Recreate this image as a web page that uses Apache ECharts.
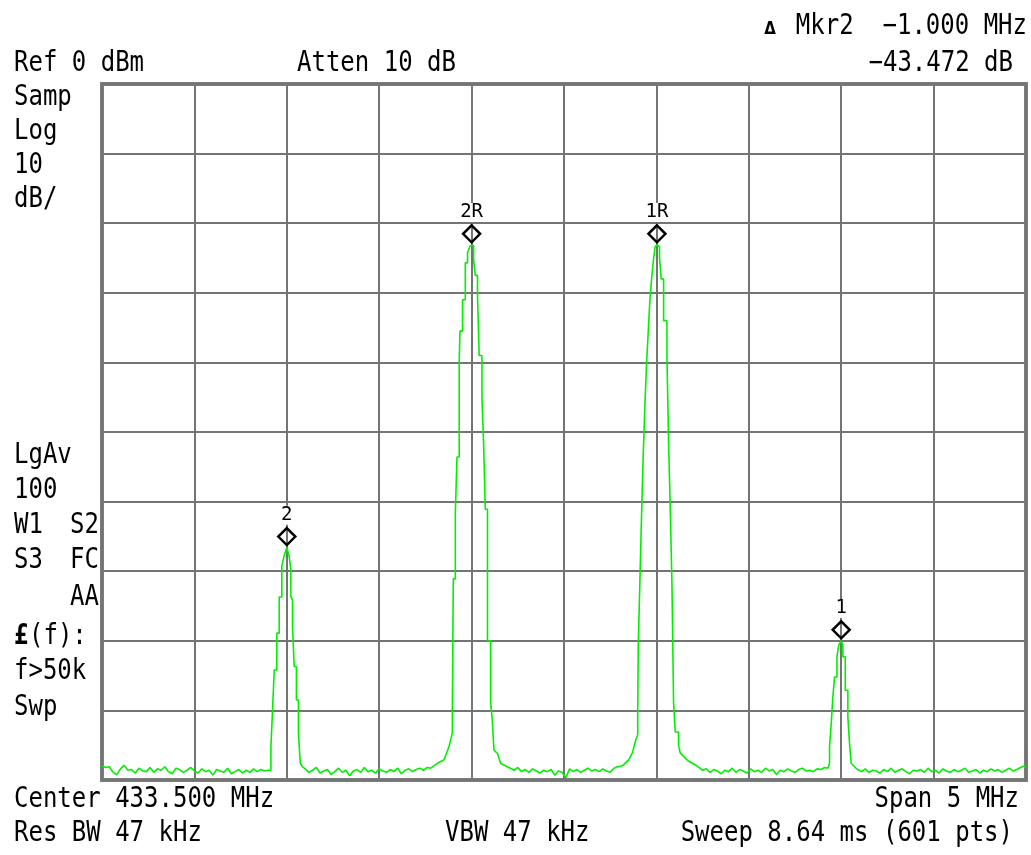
<!DOCTYPE html>
<html>
<head>
<meta charset="utf-8">
<script src="https://cdn.jsdelivr.net/npm/echarts@6/dist/echarts.min.js"></script>
<style>
html,body{margin:0;padding:0;background:#fff;}
#chart{width:1031px;height:855px;}
</style>
</head>
<body>
<div id="chart"></div>
<script>
// ---- axis setup (spectrum analyser: 431-436 MHz, 0 to -100 dBm) ----
const freqMin = 431.0, freqMax = 436.0, freqDiv = 0.5;
const refLevel = 0, bottomLevel = -100, dbDiv = 10;

const noiseStep = 0.02;
const noiseStart = [431.00, 432.10, 433.21, 434.23, 435.09];
const noise1 = [-98.0,-98.2,-98.1,-98.9,-99.2,-98.4,-97.9,-98.6,-98.5,-99.0,
  -98.3,-98.7,-98.8,-98.2,-98.9,-98.4,-98.6,-98.1,-98.8,-99.1,
  -98.3,-98.5,-98.9,-98.6,-98.2,-98.7,-99.0,-98.4,-98.8,-98.6,
  -99.3,-98.5,-98.7,-98.9,-98.3,-99.1,-98.8,-98.5,-99.0,-98.6,
  -98.9,-98.4,-98.8,-98.5,-98.7,-98.6];
const noise2 = [-98.4,-98.9,-98.6,-98.2,-99.0,-98.7,-98.5,-99.2,-98.8,-98.3,
  -98.9,-98.6,-99.4,-98.7,-98.5,-98.9,-98.2,-98.8,-98.6,-99.0,
  -98.4,-98.7,-98.9,-98.5,-98.8,-98.3,-99.1,-98.6,-98.4,-98.8,
  -98.5,-98.3,-98.6,-98.2];
const noise3 = [-98.3,-98.6,-98.2,-98.8,-98.5,-98.9,-98.4,-98.7,-99.0,-98.6,
  -98.8,-98.5,-99.3,-98.7,-98.9,-99.7,-98.4,-98.8,-98.5,-98.9,
  -98.6,-98.3,-98.7,-98.5,-98.8,-98.4,-98.7,-98.9,-98.3,-98.1,
  -98.0];
const noise4 = [-98.2,-98.6,-98.4,-98.9,-98.5,-98.7,-99.1,-98.6,-98.8,-98.3,
  -98.9,-98.5,-98.7,-99.0,-98.4,-98.8,-98.6,-98.9,-98.3,-98.7,
  -98.5,-99.2,-98.6,-98.8,-98.4,-98.7,-98.9,-98.5,-98.3,-98.7,
  -98.6,-98.8,-98.4,-98.5,-98.2];
const noise5 = [-98.5,-98.8,-98.4,-98.9,-98.6,-98.7,-99.0,-98.5,-98.8,-98.3,
  -98.9,-98.6,-98.4,-98.8,-99.1,-98.6,-98.7,-98.5,-98.9,-98.3,
  -98.8,-98.6,-99.0,-98.4,-98.7,-98.9,-98.5,-98.8,-98.6,-98.3,
  -98.9,-98.7,-98.5,-99.0,-98.6,-98.8,-98.4,-98.7,-98.5,-98.9,
  -98.6,-98.3,-98.7,-98.5,-98.2,-98.0];

// ---- signal peaks, [MHz, dBm] trace corners ----
const peak2 = [[431.914,-98.6],[431.914,-95.2],[431.923,-95.2],[431.923,-89.9],[431.932,-89.9],[431.932,-84.2],
  [431.946,-84.2],[431.946,-78.9],[431.959,-78.9],[431.959,-73.7],[431.973,-73.7],[431.973,-69.3],
  [431.986,-67.7],[432.000,-66.6],[432.013,-67.9],[432.022,-69.8],[432.022,-73.7],[432.031,-74.1],
  [432.031,-78.0],[432.040,-78.0],[432.040,-83.7],[432.052,-83.7],[432.052,-88.5],[432.063,-88.5],
  [432.063,-93.3],[432.073,-93.3],[432.073,-97.6],[432.085,-98.1]];
const peak2R = [[432.778,-98.3],[432.815,-97.6],[432.851,-97.1],[432.878,-95.2],[432.896,-93.2],[432.896,-89.9],
  [432.901,-89.9],[432.901,-71.1],[432.912,-71.1],[432.912,-61.6],[432.921,-61.6],[432.921,-53.6],
  [432.933,-53.6],[432.933,-40.0],[432.937,-40.0],[432.937,-35.5],[432.951,-35.5],[432.951,-31.0],
  [432.966,-31.0],[432.966,-25.7],[432.978,-25.7],[432.978,-24.2],[432.993,-23.2],[433.000,-23.1],
  [433.011,-23.2],[433.011,-25.3],[433.020,-25.3],[433.020,-27.5],[433.032,-27.5],[433.032,-30.5],
  [433.041,-30.5],[433.041,-39.0],[433.056,-39.0],[433.056,-45.1],[433.065,-45.1],[433.065,-51.6],
  [433.074,-51.6],[433.074,-61.1],[433.086,-61.1],[433.086,-80.0],[433.103,-80.0],[433.103,-88.9],
  [433.112,-88.9],[433.112,-91.4],[433.121,-91.4],[433.121,-95.7],[433.140,-96.2],[433.157,-97.6],
  [433.193,-98.1]];
const peak1R = [[433.823,-97.8],[433.850,-97.1],[433.870,-96.1],[433.888,-94.3],[433.899,-93.5],[433.899,-90.1],
  [433.902,-90.1],[433.902,-80.5],[433.911,-80.5],[433.911,-71.1],[433.920,-71.1],[433.920,-61.6],
  [433.929,-61.6],[433.929,-53.1],[433.938,-53.1],[433.938,-46.0],[433.947,-46.0],[433.947,-40.0],
  [433.956,-40.0],[433.956,-35.5],[433.965,-35.5],[433.965,-31.0],[433.974,-31.0],[433.974,-28.0],
  [433.983,-28.0],[433.983,-25.5],[433.993,-25.5],[433.993,-23.4],[434.003,-23.1],[434.017,-23.4],
  [434.017,-25.0],[434.026,-25.0],[434.026,-28.0],[434.039,-28.0],[434.039,-34.0],[434.057,-34.0],
  [434.057,-39.0],[434.066,-39.0],[434.066,-51.6],[434.075,-51.6],[434.075,-61.1],[434.084,-61.1],
  [434.084,-71.6],[434.093,-71.6],[434.093,-88.9],[434.102,-88.9],[434.102,-93.1],[434.120,-93.1],
  [434.120,-95.1],[434.129,-96.1],[434.147,-96.6],[434.174,-97.3],[434.210,-97.8]];
const peak1 = [[434.928,-98.3],[434.937,-97.6],[434.937,-95.2],[434.946,-95.2],[434.946,-91.9],[434.955,-91.9],
  [434.955,-88.0],[434.964,-88.0],[434.964,-85.2],[434.977,-85.2],[434.977,-82.3],[434.987,-82.3],
  [434.987,-80.6],[435.000,-80.0],[435.009,-80.6],[435.009,-82.3],[435.022,-82.3],[435.022,-87.1],
  [435.036,-87.1],[435.036,-90.9],[435.045,-90.9],[435.045,-94.7],[435.054,-94.7],[435.054,-97.6],
  [435.072,-98.1]];
const traceEnd = [[436.000,-98.3]];

// ---- markers ----
const markerNames = ['2R', '1R', '2', '1'];
const markerFreqs = [433.000, 434.003, 432.000, 435.000];
const markerLevels = [-23.1, -23.1, -66.6, -80.0];

// ---- build trace in frequency order ----
function noisePts(start, vals) {
  return vals.map((v, i) => [+(start + i * noiseStep).toFixed(3), v]);
}
const trace = [].concat(
  noisePts(noiseStart[0], noise1), peak2,
  noisePts(noiseStart[1], noise2), peak2R,
  noisePts(noiseStart[2], noise3), peak1R,
  noisePts(noiseStart[3], noise4), peak1,
  noisePts(noiseStart[4], noise5), traceEnd
);
const markerData = markerNames.map((n, i) => [markerFreqs[i], markerLevels[i], n]);

// ---- annotation text ----
const MONO = '"DejaVu Sans Mono", "Liberation Mono", monospace';
const SY = 1.18;
function t(s, x, y, align, font) {
  return {
    type: 'text', x: x, y: y, scaleY: SY, z: 100,
    style: { text: s, font: font || ('24px ' + MONO), fill: '#000',
      textAlign: align || 'left', textVerticalAlign: 'middle',
      align: align || 'left', verticalAlign: 'middle' }
  };
}
const texts = [
  t('Ref 0 dBm', 14, 64),
  t('Atten 10 dB', 297, 64),
  t('Mkr2  \u22121.000 MHz', 1027, 27, 'right'),
  t('\u0394', 770, 29, 'center', 'bold 15px "DejaVu Sans", sans-serif'),
  t('\u221243.472 dB', 1013, 64, 'right'),
  t('Samp', 14, 98), t('Log', 14, 132), t('10', 14, 166), t('dB/', 14, 200),
  t('LgAv', 14, 456), t('100', 14, 491),
  t('W1', 14, 526), t('S2', 99, 526, 'right'),
  t('S3', 14, 561), t('FC', 99, 561, 'right'),
  t('AA', 99, 598, 'right'),
  t('\u00a3', 14, 637, 'left', 'bold 24px ' + MONO), t('(f):', 29, 637),
  t('f>50k', 14, 672), t('Swp', 14, 708),
  t('Center 433.500 MHz', 14, 800),
  t('Span 5 MHz', 1019, 800, 'right'),
  t('Res BW 47 kHz', 14, 834),
  t('VBW 47 kHz', 445, 834),
  t('Sweep 8.64 ms (601 pts)', 1013, 834, 'right')
];

const chart = echarts.init(document.getElementById('chart'), null, { renderer: 'canvas' });
chart.setOption({
  animation: false,
  backgroundColor: '#ffffff',
  grid: { left: 102, right: 5, top: 84, bottom: 75, show: true,
    borderColor: '#7c7c7c', borderWidth: 4, backgroundColor: 'transparent' },
  xAxis: {
    type: 'value', min: freqMin, max: freqMax, interval: freqDiv,
    axisLine: { show: false }, axisTick: { show: false }, axisLabel: { show: false },
    splitLine: { show: true, lineStyle: { color: '#747474', width: 2 } }
  },
  yAxis: {
    type: 'value', min: bottomLevel, max: refLevel, interval: dbDiv,
    axisLine: { show: false }, axisTick: { show: false }, axisLabel: { show: false },
    splitLine: { show: true, lineStyle: { color: '#747474', width: 2 } }
  },
  series: [
    {
      type: 'line', data: trace, showSymbol: false, symbol: 'none',
      lineStyle: { color: '#00f000', width: 1.6 }, z: 3, clip: true
    },
    {
      type: 'scatter', data: markerData, symbol: 'diamond', symbolSize: [17, 17],
      symbolOffset: [0, -11], z: 5,
      itemStyle: { color: 'rgba(0,0,0,0)', borderColor: '#000', borderWidth: 2.5, opacity: 1 },
      label: {
        show: true, position: 'top', distance: 2,
        formatter: p => p.data[2],
        fontFamily: 'DejaVu Sans Mono', fontSize: 19, color: '#000',
        backgroundColor: '#fff', padding: [0, 1]
      }
    }
  ],
  graphic: texts
});
</script>
</body>
</html>
